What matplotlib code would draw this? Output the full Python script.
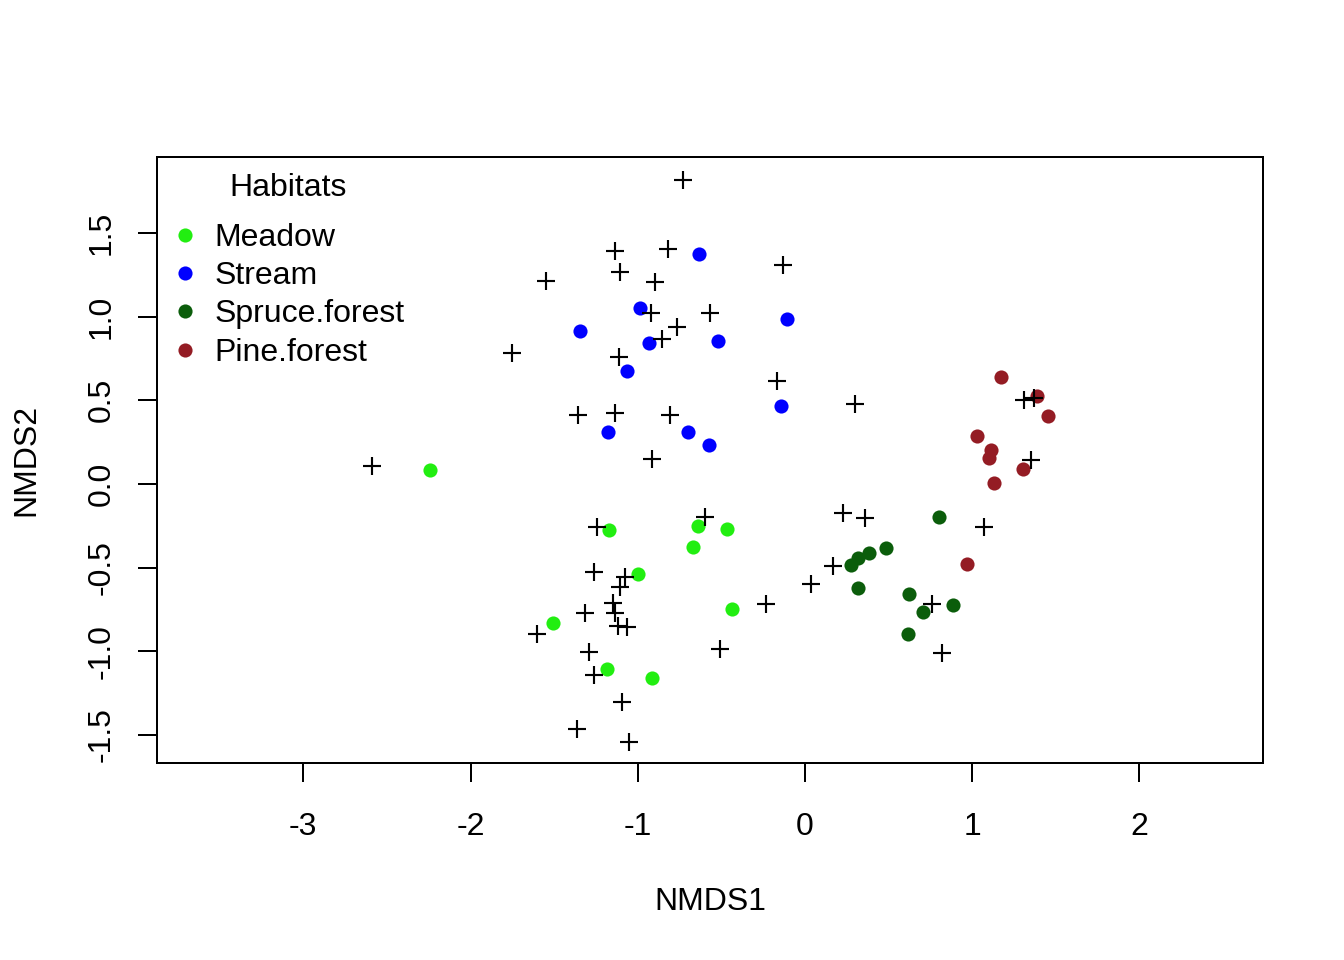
import matplotlib.pyplot as plt
import numpy as np

plt.rcParams['font.family'] = ['Liberation Sans', 'DejaVu Sans']
plt.rcParams['font.size'] = 12

# site scores per habitat (NMDS1, NMDS2)
meadow_x = [-1.172, -0.642, -0.467, -0.670, -0.997, -1.507, -0.438, -1.186, -0.915, -2.243]
meadow_y = [-0.275, -0.251, -0.271, -0.378, -0.540, -0.829, -0.745, -1.106, -1.160, 0.084]

stream_x = [-0.632, -0.985, -0.109, -1.346, -0.935, -0.519, -1.065, -0.144, -1.180, -0.700, -0.576]
stream_y = [1.373, 1.050, 0.988, 0.916, 0.845, 0.853, 0.674, 0.464, 0.313, 0.313, 0.233]

spruce_x = [0.803, 0.484, 0.383, 0.319, 0.273, 0.319, 0.624, 0.887, 0.708, 0.614]
spruce_y = [-0.199, -0.381, -0.414, -0.441, -0.484, -0.623, -0.656, -0.725, -0.763, -0.898]

pine_x = [1.175, 1.388, 1.452, 1.027, 1.111, 1.102, 1.306, 1.129, 0.967]
pine_y = [0.641, 0.528, 0.406, 0.287, 0.203, 0.154, 0.090, 0.004, -0.476]

# species scores
species_x = [-0.728, -1.136, -0.821, -0.130, -1.551, -1.106, -0.897, -0.923, -0.570, -0.767,
             -0.855, -1.751, -1.111, -0.166, -1.359, -1.136, -0.807, -0.917, -0.598, -1.242,
             -1.260, -1.075, -1.106, -1.147, -1.136, -1.314, -0.233, -1.117, -1.066, -1.605,
             -0.508, -1.290, -1.260, -1.094, -1.365, -1.053, 0.301, 1.310, 1.371, 1.353,
             0.225, 0.359, 1.072, 0.169, 0.036, 0.758, 0.818, -2.590]
species_y = [1.817, 1.395, 1.403, 1.309, 1.215, 1.267, 1.206, 1.024, 1.024, 0.940,
             0.867, 0.785, 0.761, 0.616, 0.412, 0.426, 0.412, 0.149, -0.195, -0.259,
             -0.524, -0.554, -0.614, -0.713, -0.769, -0.773, -0.719, -0.849, -0.853, -0.897,
             -0.988, -1.002, -1.142, -1.301, -1.466, -1.540, 0.476, 0.502, 0.512, 0.143,
             -0.175, -0.201, -0.255, -0.490, -0.600, -0.719, -1.008, 0.108]

habitats = ['Meadow', 'Stream', 'Spruce.forest', 'Pine.forest']
colors = ['#22ee11', '#0000ff', '#0b5d0b', '#941c24']

fig = plt.figure(figsize=(7, 5), dpi=192)
ax = fig.add_axes([0.1168, 0.2052, 0.8229, 0.6313])

groups = [(meadow_x, meadow_y), (stream_x, stream_y), (spruce_x, spruce_y), (pine_x, pine_y)]
for (gx, gy), lab, col in zip(groups, habitats, colors):
    ax.plot(gx, gy, 'o', color=col, ms=5.3, mec='none', label=lab)

ax.plot(species_x, species_y, '+', color='black', ms=7, mew=0.8)

ax.set_xlim(-3.875, 2.739)
ax.set_ylim(-1.668, 1.955)
ax.set_xticks([-3, -2, -1, 0, 1, 2])
ax.set_xticklabels(['-3', '-2', '-1', '0', '1', '2'])
ax.set_yticks([-1.5, -1.0, -0.5, 0.0, 0.5, 1.0, 1.5])
ax.set_yticklabels(['-1.5', '-1.0', '-0.5', '0.0', '0.5', '1.0', '1.5'], rotation=90, va='center')
ax.tick_params(direction='out', length=7.2, width=0.75)
ax.tick_params(axis='x', pad=11)
ax.tick_params(axis='y', pad=8)
for s in ax.spines.values():
    s.set_linewidth(0.75)

ax.set_xlabel('NMDS1', labelpad=17)
ax.set_ylabel('NMDS2', labelpad=17)

ax.legend(loc='upper left', bbox_to_anchor=(-0.001, 0.9125), frameon=False,
          handlelength=1.0, handletextpad=0.44, labelspacing=0.26, borderaxespad=0)
ax.text(0.1184, 0.949, 'Habitats', transform=ax.transAxes, ha='center', va='center')

fig.savefig('out.png', dpi=192)
